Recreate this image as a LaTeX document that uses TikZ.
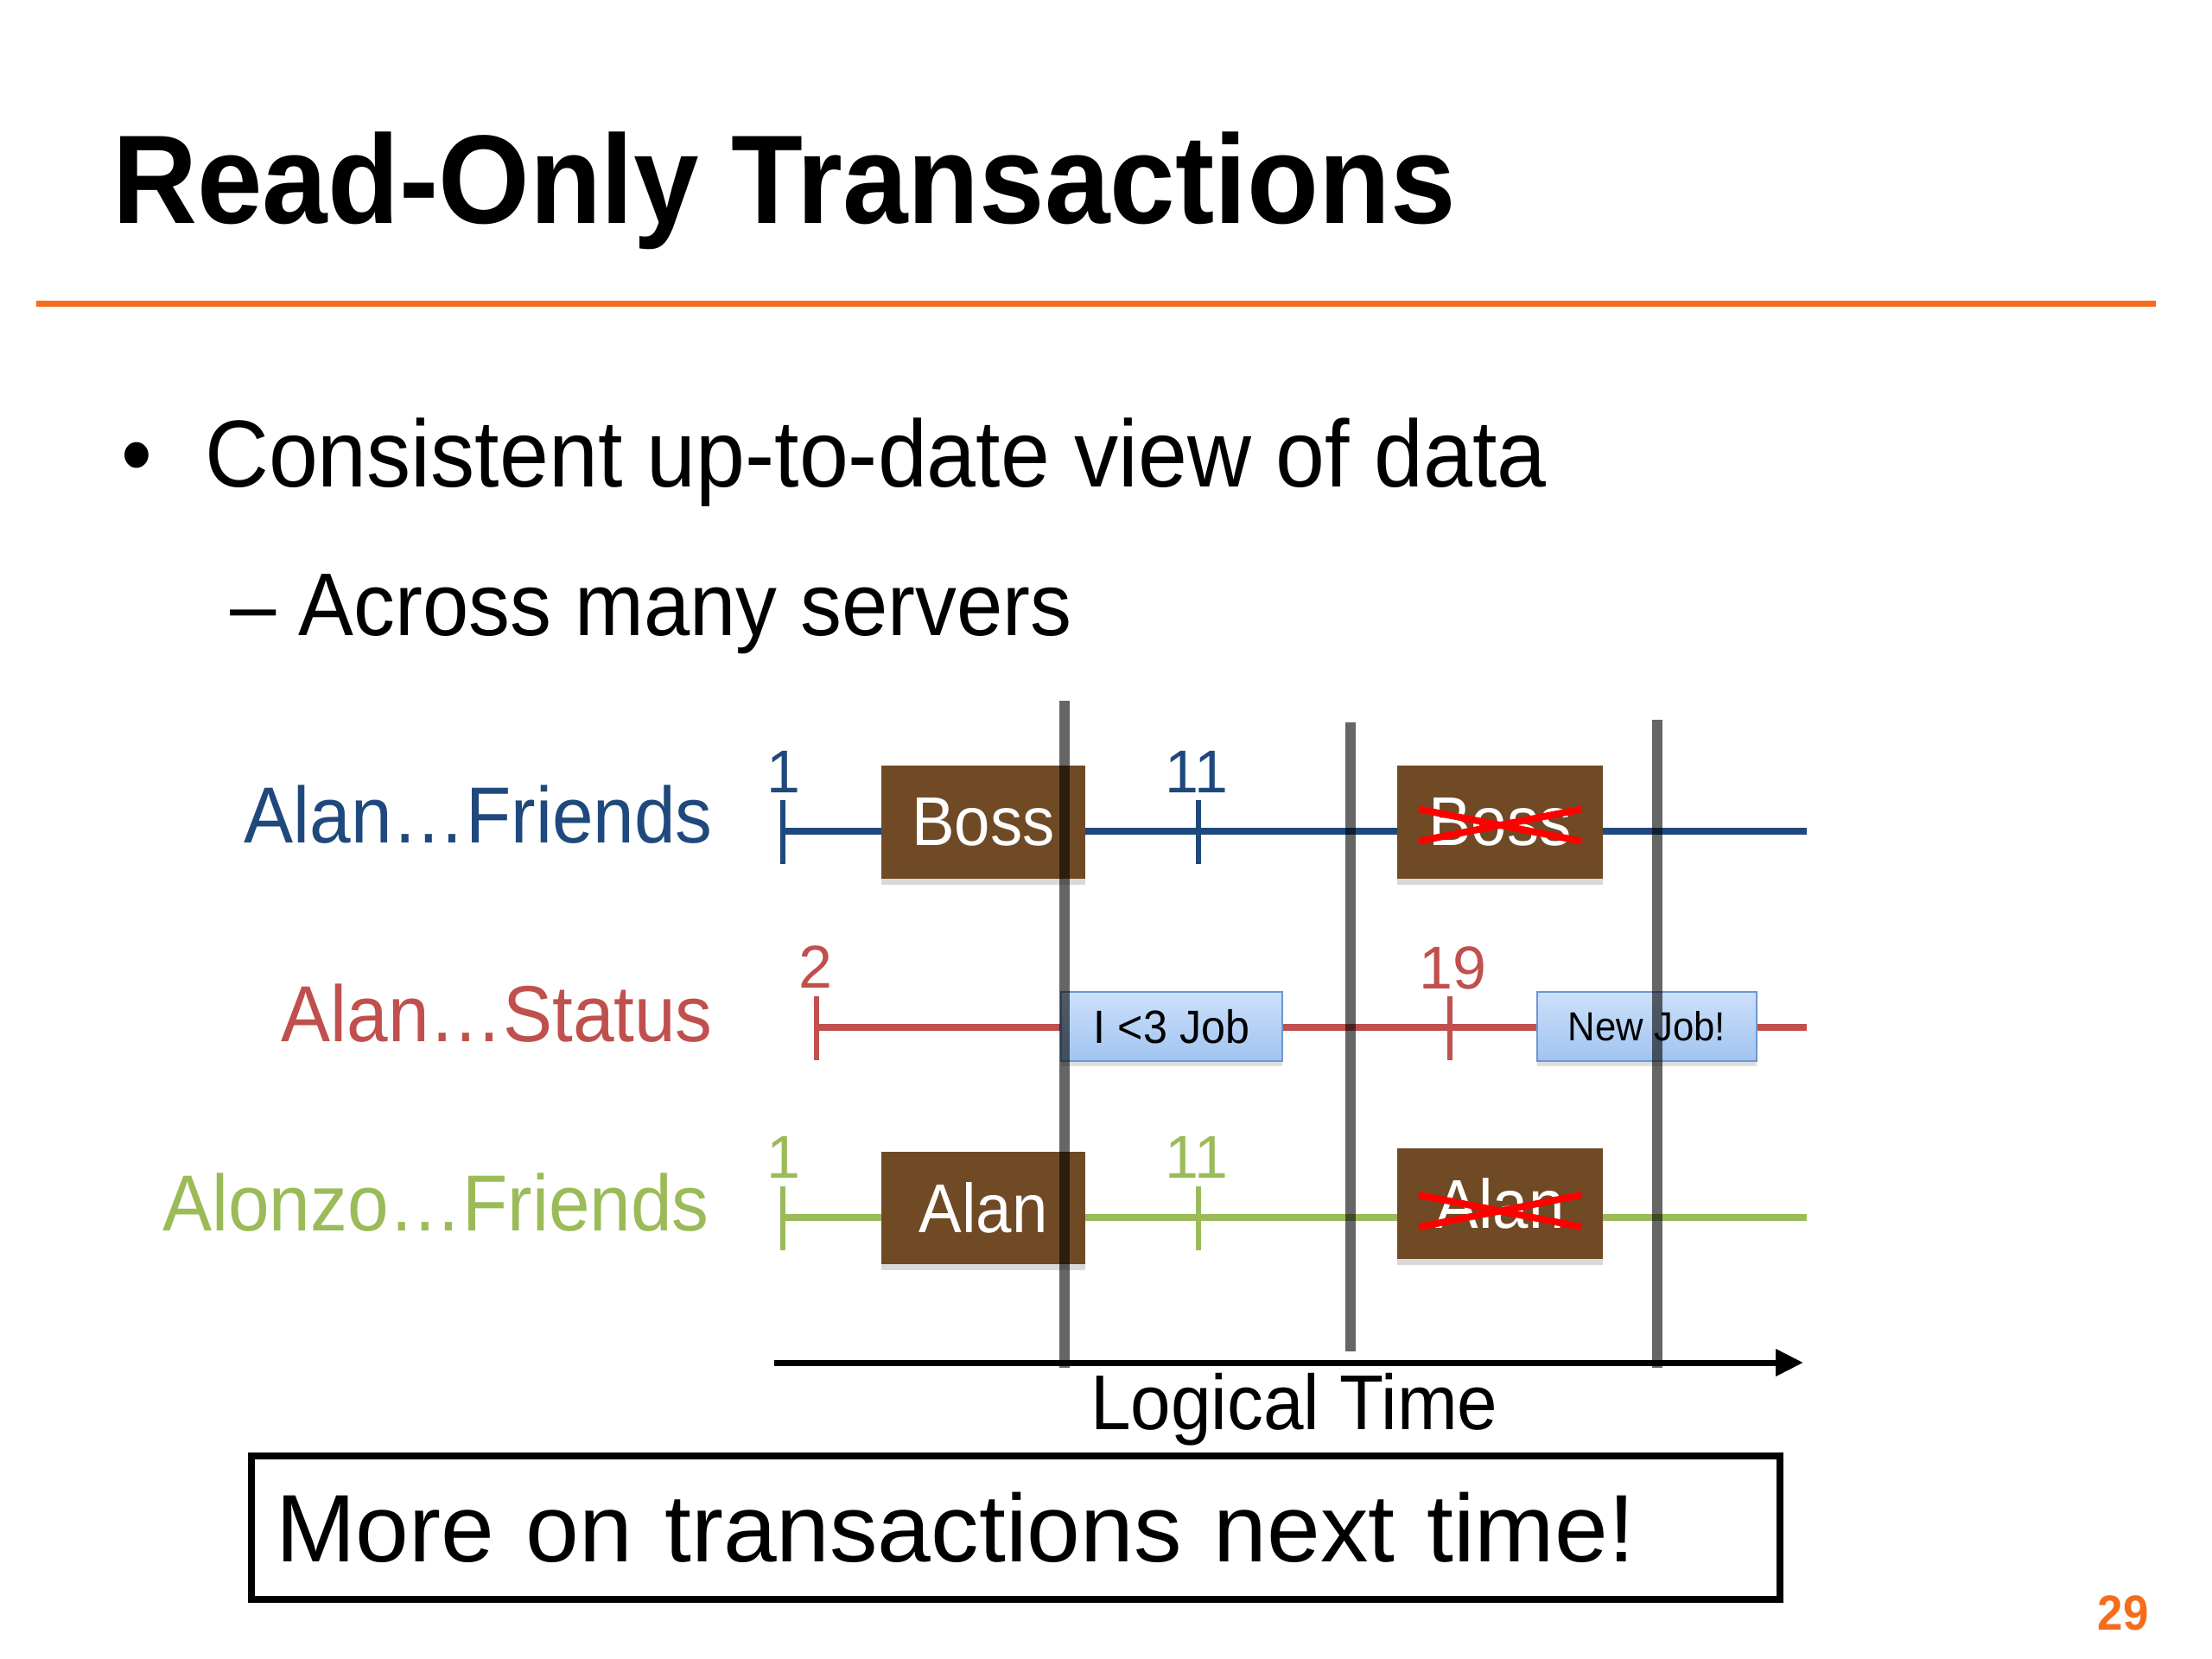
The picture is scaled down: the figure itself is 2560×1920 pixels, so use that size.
\documentclass[tikz,border=0pt]{standalone}
\usepackage{fontspec}
\setmainfont{Liberation Sans}[FakeStretch=0.93]
\newfontfamily\plainsans{Liberation Sans}
\usetikzlibrary{arrows.meta,shadows,calc}
\definecolor{tlblue}{RGB}{31,73,125}
\definecolor{tlred}{RGB}{192,80,77}
\definecolor{tlgreen}{RGB}{155,187,89}
\definecolor{ruleorange}{RGB}{245,108,28}
\definecolor{boxbrown}{RGB}{111,74,37}
\definecolor{bboxdraw}{RGB}{110,150,210}
\definecolor{bboxtop}{RGB}{205,224,250}
\definecolor{bboxbot}{RGB}{160,196,240}
\newcommand\fsz[1]{\fontsize{#1}{#1}\selectfont}
\begin{document}
\begin{tikzpicture}[x=1pt,y=-1pt,
  lbl/.style={anchor=base east, font=\fsz{92}},
  tlab/.style={anchor=base, font=\plainsans\fsz{70}},
  brownbox/.style={fill=boxbrown, inner sep=0pt, text=white, font=\fsz{80},
    drop shadow={shadow xshift=0pt, shadow yshift=-7pt, opacity=0.3}},
  bluebox/.style={draw=bboxdraw, line width=2.5pt, top color=bboxtop, bottom color=bboxbot,
    inner sep=0pt, minimum height=80pt, minimum width=256pt, text=black,
    drop shadow={shadow xshift=0pt, shadow yshift=-6pt, opacity=0.25}},
  tline/.style={line width=8pt},
  tickmark/.style={line width=6pt},
  crossline/.style={draw=red, line width=8pt},
  vbar/.style={draw=black, draw opacity=0.6, line width=12pt},
]
\path[use as bounding box] (0,0) rectangle (2560,1920);

% title and rule
\node[anchor=base west, font=\bfseries\fsz{146}, inner sep=0pt] (title) at (130,258) {Read-Only Transactions};
\coordinate (ruleL) at (42,351);
\coordinate (ruleR) at (2495,351);
\draw[ruleorange, line width=7pt] (ruleL) -- (ruleR);

% bullets
\node[anchor=base west, font=\fsz{110}, inner sep=0pt] (dot) at (140,563) {•};
\node[anchor=base west, font=\fsz{110}, inner sep=0pt] (b1) at (237,563) {Consistent up-to-date view of data};
\node[anchor=base west, font=\fsz{103}, inner sep=0pt] (b2) at (266,735) {– Across many servers};

% row labels
\node[lbl, text=tlblue, inner sep=0pt] (l1) at (825,975) {Alan…Friends};
\node[lbl, text=tlred, inner sep=0pt] (l2) at (825,1205) {Alan…Status};
\node[lbl, text=tlgreen, inner sep=0pt] (l3) at (821,1424) {Alonzo…Friends};

% timelines
\coordinate (bs) at (906,962);  \coordinate (be) at (2091,962);
\coordinate (rs) at (945,1189); \coordinate (re) at (2091,1189);
\coordinate (gs) at (906,1409); \coordinate (ge) at (2091,1409);
\draw[tline, tlblue] (bs) -- (be);
\draw[tline, tlred] (rs) -- (re);
\draw[tline, tlgreen] (gs) -- (ge);

% ticks
\draw[tickmark, tlblue] (906,926) -- (906,1000);
\draw[tickmark, tlblue] (1387,926) -- (1387,1000);
\draw[tickmark, tlred] (945,1153) -- (945,1227);
\draw[tickmark, tlred] (1678,1153) -- (1678,1227);
\draw[tickmark, tlgreen] (906,1373) -- (906,1447);
\draw[tickmark, tlgreen] (1387,1373) -- (1387,1447);

% tick labels
\node[tlab, text=tlblue, inner sep=0pt] (n1) at (907,917) {1};
\node[tlab, text=tlblue, inner sep=0pt] (n11) at (1385,917) {11};
\node[tlab, text=tlred, inner sep=0pt] (n2) at (944,1143) {2};
\node[tlab, text=tlred, inner sep=0pt] (n19) at (1681,1144) {19};
\node[tlab, text=tlgreen, inner sep=0pt] (m1) at (907,1363) {1};
\node[tlab, text=tlgreen, inner sep=0pt] (m11) at (1385,1363) {11};

% boxes
\node[brownbox, minimum width=236pt, minimum height=131pt] (boss) at (1138,951.5) {Boss};
\node[brownbox, minimum width=238pt, minimum height=131pt] (xboss) at (1736,951.5) {Boss};
\node[brownbox, minimum width=236pt, minimum height=130pt] (alan) at (1138,1398) {Alan};
\node[brownbox, minimum width=238pt, minimum height=128pt] (xalan) at (1736,1393) {Alan};
\node[bluebox, font=\fsz{54}] (job) at (1356,1188) {I <3 Job};
\node[bluebox, minimum width=254pt, font=\fsz{47}] (newjob) at (1906,1188) {New Job!};

% crosses
\draw[crossline] ($(xboss.center)+(-94,-15)$) -- ($(xboss.center)+(94,22)$);
\draw[crossline] ($(xboss.center)+(-94,22)$) -- ($(xboss.center)+(94,-15)$);
\draw[crossline] ($(xalan.center)+(-94,-10)$) -- ($(xalan.center)+(94,27)$);
\draw[crossline] ($(xalan.center)+(-94,27)$) -- ($(xalan.center)+(94,-10)$);

% time arrow
\coordinate (ts) at (896,1577);
\coordinate (te) at (2087,1577);
\draw[line width=7pt, -{Triangle[length=32pt,width=30pt]}] (ts) -- (te);

% vertical snapshot bars
\coordinate (v1t) at (1232,811); \coordinate (v1b) at (1232,1583);
\coordinate (v2t) at (1563,836); \coordinate (v2b) at (1563,1564);
\coordinate (v3t) at (1918,833); \coordinate (v3b) at (1918,1583);
\draw[vbar] (v1t) -- (v1b);
\draw[vbar] (v2t) -- (v2b);
\draw[vbar] (v3t) -- (v3b);

\node[anchor=base west, font=\fsz{90}, inner sep=0pt] (lt) at (1262,1654) {Logical Time};

% bottom box
\node[draw, line width=8pt, text width=1713pt, align=left, inner xsep=28pt, inner ysep=0pt,
      minimum height=166pt, font=\plainsans\fsz{111}] (more) at (1175.5,1768) {More on transactions next time!};

% page number
\node[anchor=base, font=\bfseries\fsz{57}, text=ruleorange, inner sep=0pt] (pg) at (2457,1886) {29};
\end{tikzpicture}
\end{document}
